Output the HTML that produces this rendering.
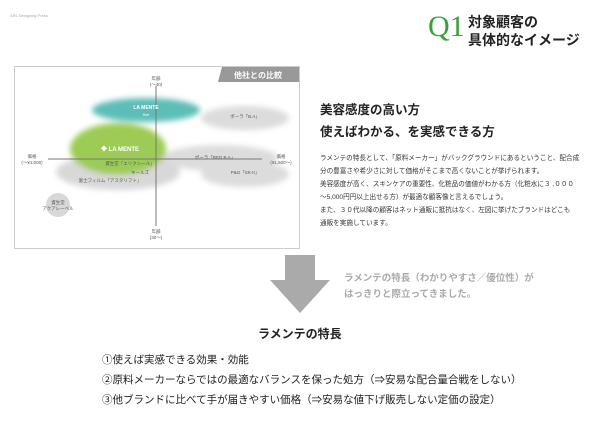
<!DOCTYPE html>
<html><head><meta charset="utf-8"><style>
body{margin:0;width:600px;height:424px;background:#fff;position:relative;overflow:hidden;font-family:"Liberation Sans","Noto Sans CJK JP",sans-serif;color:#222}
.a{position:absolute;white-space:nowrap}
</style></head><body>
<div class="a" style="left:10px;top:13px;font-size:4px;color:#aaa">ARL Designing Press</div>
<div class="a" style="left:428px;top:12px;font-family:'Liberation Serif',serif;font-size:30px;color:#3aa13a;line-height:30px">Q1</div>
<div class="a" style="left:468px;top:13px;font-size:14px;font-weight:bold;line-height:18px;color:#222">対象顧客の<br>具体的なイメージ</div>

<svg class="a" style="left:0;top:0" width="600" height="424">
<defs>
<filter id="b" x="-30%" y="-50%" width="160%" height="200%"><feGaussianBlur stdDeviation="3"/></filter>
</defs>
<rect x="14.5" y="66.5" width="285" height="182" fill="#fff" stroke="#ccc"/>
<path d="M222 67 H299 V82 H218 Z" fill="#999"/>
<text x="258" y="78" font-size="8" fill="#fff" font-weight="bold" text-anchor="middle">他社との比較</text>
<g filter="url(#b)">
<ellipse cx="245" cy="118" rx="44" ry="12" fill="#dcdcdc"/>
<ellipse cx="220" cy="158" rx="58" ry="13" fill="#dcdcdc"/>
<ellipse cx="245" cy="174" rx="44" ry="13" fill="#dcdcdc"/>
<ellipse cx="118" cy="172" rx="62" ry="18" fill="#d8d8d8"/>
<ellipse cx="146" cy="110" rx="54" ry="12" fill="#5dbdb8"/>
<ellipse cx="118" cy="149" rx="48" ry="26" fill="#9ccc55"/>
</g>
<circle cx="58" cy="205" r="12" fill="#d8d8d8"/>
<line x1="156" y1="86" x2="156" y2="226" stroke="#777" stroke-width="1"/>
<line x1="48" y1="159" x2="262" y2="159" stroke="#777" stroke-width="1"/>
<g font-size="4.5" fill="#555" text-anchor="middle">
<text x="156" y="80">年齢</text><text x="156" y="86">(〜40)</text>
<text x="156" y="233">年齢</text><text x="156" y="239">(30〜)</text>
<text x="32" y="158">価格</text><text x="32" y="164">(〜¥1,000)</text>
<text x="281" y="158">価格</text><text x="281" y="164">(¥1,500〜)</text>
<text x="245" y="118">ポーラ「B.A」</text>
<text x="215" y="159">ポーラ「RED B.A」</text>
<text x="245" y="174">P&amp;G「SK-II」</text>
<text x="130" y="165">資生堂「エリクシール」</text>
<text x="140" y="174">キールズ</text>
<text x="110" y="182">富士フィルム「アスタリフト」</text>
<text x="58" y="204">資生堂</text><text x="58" y="210">アクアレーベル</text>
</g>
<text x="146" y="109" font-size="5" fill="#fff" font-weight="bold" text-anchor="middle">LA MENTE</text>
<text x="146" y="116" font-size="4" fill="#fff" font-style="italic" text-anchor="middle">fine</text>
<text x="120" y="151" font-size="6" fill="#fff" font-weight="bold" text-anchor="middle">◆ LA MENTE</text>
<path d="M285 255 H315 V280 H330 L300 313 L270 280 H285 Z" fill="#aaa"/>
</svg>

<div class="a" style="left:320px;top:99px;font-size:12.5px;font-weight:bold;line-height:22px">美容感度の高い方<br>使えばわかる、を実感できる方</div>
<div class="a" style="left:320px;top:152px;font-size:6.6px;line-height:13px;color:#333">ラメンテの特長として、「原料メーカー」がバックグラウンドにあるということ、配合成<br>分の豊富さや希少さに対して価格がそこまで高くないことが挙げられます。<br>美容感度が高く、スキンケアの重要性、化粧品の価値がわかる方（化粧水に３ ,０００<br>〜5,000円円以上出せる方）が最適な顧客像と言えるでしょう。<br>また、３０代以降の顧客はネット通販に抵抗はなく、左図に挙げたブランドはどこも<br>通販を実施しています。</div>
<div class="a" style="left:344px;top:271px;font-size:9.5px;line-height:16px;color:#aaa;font-weight:bold">ラメンテの特長（わかりやすさ／優位性）が<br>はっきりと際立ってきました。</div>
<div class="a" style="left:258px;top:325px;font-size:12px;font-weight:bold">ラメンテの特長</div>
<div class="a" style="left:102px;top:350px;font-size:10.5px;line-height:20px">①使えば実感できる効果・効能<br>②原料メーカーならではの最適なバランスを保った処方（⇒安易な配合量合戦をしない）<br>③他ブランドに比べて手が届きやすい価格（⇒安易な値下げ販売しない定価の設定）</div>
</body></html>
